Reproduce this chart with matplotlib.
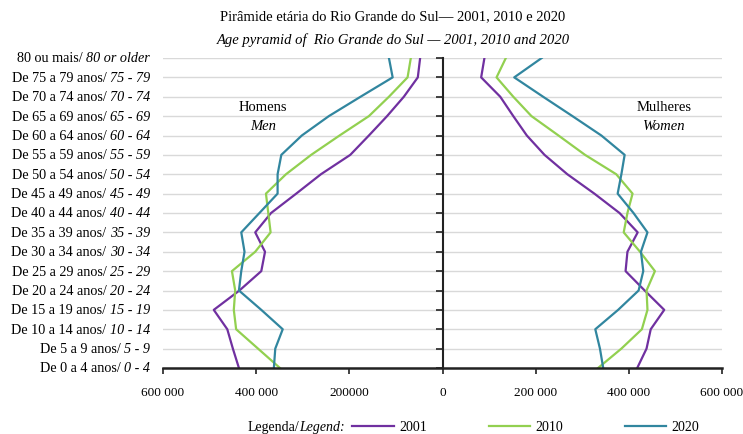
import matplotlib.pyplot as plt
import numpy as np

plt.rcParams['font.family'] = ['Liberation Serif', 'DejaVu Serif']

# age groups, bottom (0-4) to top (80+)
ages_pt = ["De 0 a 4 anos/ ", "De 5 a 9 anos/ ", "De 10 a 14 anos/ ", "De 15 a 19 anos/ ",
           "De 20 a 24 anos/ ", "De 25 a 29 anos/ ", "De 30 a 34 anos/ ", "De 35 a 39 anos/ ",
           "De 40 a 44 anos/ ", "De 45 a 49 anos/ ", "De 50 a 54 anos/ ", "De 55 a 59 anos/ ",
           "De 60 a 64 anos/ ", "De 65 a 69 anos/ ", "De 70 a 74 anos/ ", "De 75 a 79 anos/ ",
           "80 ou mais/ "]
ages_en = ["0 - 4", "5 - 9", "10 - 14", "15 - 19", "20 - 24", "25 - 29", "30 - 34",
           "35 - 39", "40 - 44", "45 - 49", "50 - 54", "55 - 59", "60 - 64", "65 - 69",
           "70 - 74", "75 - 79", "80 or older"]

# population (thousands)
men_2001 = [437, 450, 462, 491, 436, 389, 381, 402, 368, 314, 261, 198, 158, 119, 83, 53, 48]
men_2010 = [349, 396, 443, 448, 445, 452, 402, 369, 374, 379, 336, 282, 221, 158, 115, 75, 68]
men_2020 = [362, 359, 343, 389, 437, 432, 425, 432, 393, 354, 354, 346, 302, 244, 176, 107, 115]
women_2001 = [418, 438, 447, 476, 434, 393, 397, 419, 380, 326, 268, 219, 181, 152, 124, 83, 90]
women_2010 = [334, 384, 428, 440, 438, 456, 424, 389, 397, 408, 373, 306, 249, 191, 152, 116, 136]
women_2020 = [345, 338, 328, 377, 421, 431, 426, 440, 410, 376, 384, 391, 341, 279, 216, 154, 213]

years = ["2001", "2010", "2020"]
colors = ["#7030A0", "#92D050", "#31869F"]

xticks = [-600000, -400000, -200000, 0, 200000, 400000, 600000]
xtick_labels = ["600 000", "400 000", "200000", "0", "200 000", "400 000", "600 000"]

fig = plt.figure(figsize=(7.43, 4.35), dpi=100)
ax = fig.add_axes([163 / 743, 1 - 369 / 435, 559 / 743, 310 / 435])

y = np.arange(len(ages_pt))
men = [men_2001, men_2010, men_2020]
women = [women_2001, women_2010, women_2020]
for yr, c, m, w in zip(years, colors, men, women):
    ax.plot(-np.array(m) * 1000, y, color=c, lw=1.6, label=yr)
    ax.plot(np.array(w) * 1000, y, color=c, lw=1.6)

ax.set_xlim(-600000, 600000)
ax.set_ylim(0, 16)
ax.set_yticks(y)
ax.set_yticklabels([])
for yy in y:
    ax.axhline(yy, color="#D9D9D9", lw=1, zorder=0)

ax.spines['top'].set_visible(False)
ax.spines['right'].set_visible(False)
ax.spines['left'].set_position(('data', 0))
ax.spines['left'].set_linewidth(1.5)
ax.spines['left'].set_color('#222222')
ax.spines['bottom'].set_linewidth(1.8)
ax.spines['bottom'].set_color('#222222')
ax.tick_params(axis='y', direction='out', length=5, width=1.2, color='#222222')
ax.tick_params(axis='x', direction='out', length=4, width=1.2, color='#222222',
               labelsize=9.5, pad=9)
ax.set_xticks(xticks)
ax.set_xticklabels(xtick_labels)

# category labels: portuguese normal + english italic
tr = ax.get_yaxis_transform()
for yy, pt, en in zip(y, ages_pt, ages_en):
    t = ax.text(-0.023, yy, en, style='italic', ha='right', va='center',
                fontsize=10.2, transform=tr)
    ax.annotate(pt, xy=(0, 0.5), xycoords=t, ha='right', va='center', fontsize=10.2)

ax.text(-385000, 13.5, "Homens", ha='center', va='center', fontsize=10.5)
ax.text(-385000, 12.5, "Men", ha='center', va='center', fontsize=10.5, style='italic')
ax.text(475000, 13.5, "Mulheres", ha='center', va='center', fontsize=10.5)
ax.text(475000, 12.5, "Women", ha='center', va='center', fontsize=10.5, style='italic')

fig.text(393 / 743, 1 - 17 / 435, "Pirâmide etária do Rio Grande do Sul— 2001, 2010 e 2020",
         ha='center', va='center', fontsize=10.5)
fig.text(393 / 743, 1 - 40 / 435, "Age pyramid of  Rio Grande do Sul — 2001, 2010 and 2020",
         ha='center', va='center', fontsize=10.5, style='italic')

lt = fig.text(345 / 743, 1 - 428 / 435, "Legend:", ha='right', va='center',
              fontsize=10, style='italic')
ax.annotate("Legenda/", xy=(0, 0.5), xycoords=lt, ha='right', va='center', fontsize=10)

fig.legend(loc='center', bbox_to_anchor=(526 / 743, 1 - 428 / 435), ncol=3, frameon=False,
           fontsize=10, handlelength=3.0, handletextpad=0.4, columnspacing=4.4,
           borderpad=0, borderaxespad=0)

fig.savefig("out.png", dpi=100)
